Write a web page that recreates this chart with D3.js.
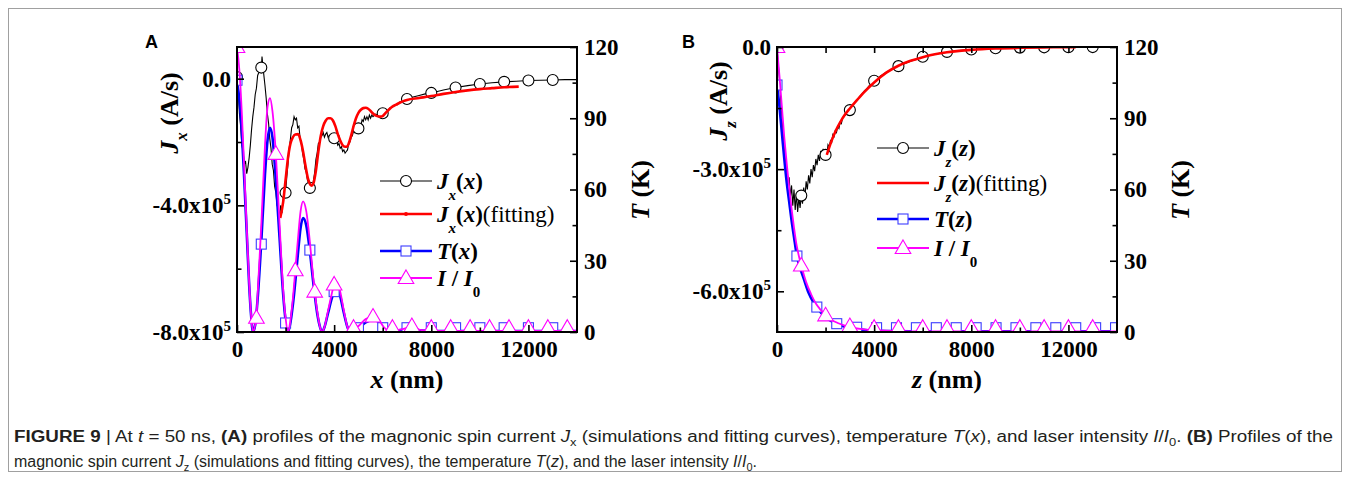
<!DOCTYPE html>
<html><head><meta charset="utf-8">
<script src="https://cdn.jsdelivr.net/npm/d3@7"></script>
<style>body{margin:0;background:#fff}svg{display:block}</style>
</head><body>
<svg id="c" width="1350" height="480"></svg>
<script>
// ---------- tick values ----------
const xTicks = [0, 4000, 8000, 12000];
const xMinor = [2000, 6000, 10000];
const tTicks = [0, 30, 60, 90, 120];
const tMinor = [15, 45, 75, 105];
const jxTicks = [0, -4, -8];        // x10^5 A/s
const jxMinor = [-2, -6];
const jzTicks = [0, -3, -6];
const jzMinor = [-1.5, -4.5];

// ---------- Panel A data (x nm, J in 1e5 A/s, T in K, I/I0 on T axis scale) ----------
const jxSim = [[0,0.05],[50,-0.4],[100,-1.1],[150,-1.5],[200,-2.1],[250,-2.3],[300,-2.7],[350,-2.6],[400,-3.0],[450,-2.8],[500,-2.5],[550,-2.1],[600,-1.6],[650,-1.2],[700,-0.9],[750,-0.5],[800,-0.3],[850,0.1],[900,0.2],[950,0.5],[1000,0.3],[1030,0.7],[1060,0.45],[1100,0.15],[1150,-0.2],[1200,-0.6],[1250,-1.1],[1300,-1.4],[1350,-1.9],[1400,-2.2],[1450,-2.7],[1500,-2.9],[1550,-3.4],[1600,-3.6],[1650,-4.0],[1700,-4.1],[1750,-4.4],[1800,-4.0],[1850,-4.25],[1900,-3.8],[1950,-3.5],[2000,-3.6],[2050,-3.1],[2100,-2.7],[2150,-2.2],[2200,-1.9],[2250,-1.55],[2300,-1.45],[2350,-1.2],[2400,-1.3],[2450,-1.25],[2500,-1.55],[2550,-1.5],[2600,-1.9],[2650,-2.05],[2700,-2.35],[2750,-2.55],[2800,-2.85],[2850,-2.95],[2900,-3.2],[2950,-3.3],[3000,-3.45],[3050,-3.35],[3100,-3.55],[3150,-3.2],[3200,-2.95],[3250,-2.55],[3300,-2.35],[3350,-2.05],[3400,-2.0],[3450,-1.85],[3500,-1.8],[3550,-1.7],[3600,-1.85],[3650,-1.75],[3700,-1.7],[3750,-1.85],[3800,-1.8],[3850,-1.95],[3900,-1.85],[4000,-1.88],[4050,-2.0],[4100,-1.95],[4150,-2.1],[4200,-2.05],[4250,-2.2],[4300,-2.15],[4350,-2.3],[4400,-2.25],[4450,-2.35],[4500,-2.3],[4550,-2.25],[4600,-2.05],[4650,-2.0],[4700,-1.85],[4750,-1.8],[4800,-1.65],[4850,-1.7],[4900,-1.55],[4950,-1.6],[5000,-1.57],[5050,-1.45],[5100,-1.5],[5150,-1.3],[5200,-1.35],[5250,-1.2],[5300,-1.3],[5350,-1.2],[5400,-1.3],[5450,-1.15],[5500,-1.25],[5550,-1.15],[5600,-1.2],[5700,-1.12],[5800,-1.15],[5900,-1.08],[6000,-1.09],[6100,-1.0],[6200,-1.02],[6300,-0.92],[6400,-0.9],[6500,-0.83],[6600,-0.82],[6700,-0.74],[6800,-0.73],[6900,-0.66],[7000,-0.64],[7250,-0.58],[7500,-0.53],[7750,-0.48],[8000,-0.45],[8500,-0.36],[9000,-0.28],[9500,-0.22],[10000,-0.17],[10500,-0.13],[11000,-0.1],[11500,-0.08],[12000,-0.06],[12500,-0.05],[13000,-0.04],[13500,-0.03],[14000,-0.03]];
const jxMarks = [[0,0.05],[1000,0.35],[2000,-3.6],[3000,-3.45],[4000,-1.88],[5000,-1.57],[6000,-1.09],[7000,-0.64],[8000,-0.45],[9000,-0.28],[10000,-0.17],[11000,-0.1],[12000,-0.06],[13000,-0.04]];
const jxFit = [[1780,-4.4],[1900,-3.9],[2000,-3.2],[2100,-2.5],[2200,-2.05],[2300,-1.85],[2400,-1.76],[2520,-1.75],[2620,-1.95],[2720,-2.3],[2820,-2.75],[2920,-3.15],[3020,-3.35],[3080,-3.38],[3150,-3.3],[3250,-2.9],[3350,-2.3],[3450,-1.8],[3550,-1.5],[3650,-1.33],[3750,-1.25],[3850,-1.25],[3950,-1.32],[4050,-1.5],[4150,-1.75],[4250,-1.95],[4350,-2.1],[4450,-2.15],[4520,-2.15],[4600,-2.05],[4700,-1.8],[4800,-1.5],[4900,-1.25],[5000,-1.08],[5100,-0.98],[5200,-0.93],[5300,-0.92],[5400,-0.95],[5500,-1.02],[5600,-1.1],[5700,-1.16],[5800,-1.19],[5900,-1.2],[6000,-1.18],[6100,-1.1],[6250,-0.98],[6400,-0.88],[6550,-0.82],[6700,-0.76],[6850,-0.71],[7000,-0.67],[7500,-0.61],[8000,-0.55],[8500,-0.48],[9000,-0.42],[9500,-0.37],[10000,-0.33],[10500,-0.3],[11000,-0.27],[11600,-0.25]];
const tA = [[0,105],[100,98],[200,84],[300,64],[400,42],[500,20],[580,7],[660,0],[750,3],[850,14],[1000,38],[1150,66],[1260,81],[1360,86],[1460,82],[1600,64],[1750,40],[1900,16],[2000,5],[2100,0],[2200,4],[2350,16],[2500,32],[2620,44],[2720,48],[2850,45],[3000,34],[3150,20],[3300,8],[3420,2],[3500,0],[3600,2],[3750,8],[3900,14],[4000,17],[4110,18.5],[4250,15],[4400,8],[4550,2],[4650,0],[4800,0.5],[5000,1.5],[5300,4],[5550,5],[5700,5],[5850,4],[6050,1.5],[6250,0.3],[6600,0.6],[7000,1.1],[7200,1.2],[7600,0.6],[8000,0.4],[14000,0.4]];
const iA = [[0,120],[100,110],[200,92],[300,68],[400,44],[500,21],[580,7],[660,0],[750,3],[800,6],[850,16],[1000,45],[1150,78],[1260,95],[1360,98.5],[1460,93],[1600,75],[1750,46],[1900,18],[2000,6],[2100,0],[2200,5],[2300,14],[2400,26],[2500,38],[2620,51],[2720,55],[2850,51],[3000,38],[3100,27],[3200,17],[3300,9],[3420,2],[3500,0],[3600,2],[3750,9],[3900,16],[4000,20],[4110,21],[4250,17],[4400,9],[4550,2],[4650,0],[4800,1],[5000,2.5],[5300,5.5],[5600,6.5],[5850,5],[6050,2],[6300,0.5],[6700,1],[7200,2],[7600,0.8],[8000,0.5],[14000,0.5]];
const tAMarks = [[0,106],[1000,37],[2000,3.8],[3000,34.5],[4000,17],[5000,1.8],[6000,1.8],[7000,1.8],[8000,1.8],[9000,1.8],[10000,1.8],[11000,1.8],[12000,1.8],[13000,1.8]];
const iAMarks = [[0,120],[800,6],[1600,75],[2400,26],[3200,17],[4000,20],[4800,1.8],[5600,6.5],[6400,1.8],[7200,2.5],[8000,1.8],[8800,1.8],[9600,1.8],[10400,1.8],[11200,1.8],[12000,1.8],[12800,1.8],[13600,1.8]];

// ---------- Panel B data (z nm) ----------
const jzSim = [[0,0],[100,-0.8],[200,-1.7],[300,-2.5],[400,-3.1],[450,-3.4],[500,-3.2],[550,-3.7],[600,-3.4],[650,-3.9],[700,-3.5],[750,-4.0],[800,-3.6],[850,-4.05],[900,-3.7],[950,-3.95],[1000,-3.65],[1050,-3.85],[1100,-3.45],[1150,-3.7],[1200,-3.3],[1250,-3.5],[1300,-3.15],[1350,-3.35],[1400,-3.0],[1450,-3.2],[1500,-2.9],[1550,-3.05],[1600,-2.75],[1650,-2.9],[1700,-2.65],[1750,-2.8],[1800,-2.55],[1850,-2.7],[1900,-2.5],[1950,-2.7],[2000,-2.55],[2050,-2.65],[2100,-2.4],[2150,-2.45],[2200,-2.3],[2250,-2.35],[2300,-2.15],[2350,-2.2],[2400,-2.05],[2450,-2.1],[2500,-1.95],[2550,-2.0],[2600,-1.85],[2650,-1.88],[2700,-1.75],[2800,-1.68],[2900,-1.6],[3000,-1.55],[3100,-1.45],[3200,-1.37],[3300,-1.3],[3400,-1.22],[3500,-1.15],[3600,-1.08],[3700,-1.02],[3800,-0.95],[3900,-0.89],[4000,-0.84],[4250,-0.72],[4500,-0.62],[4750,-0.54],[5000,-0.47],[5500,-0.35],[6000,-0.25],[6500,-0.18],[7000,-0.12],[7500,-0.09],[8000,-0.06],[9000,-0.03],[10000,-0.015],[11000,-0.008],[12000,-0.004],[13000,-0.002],[14000,0]];
const jzMarks = [[0,0],[1000,-3.65],[2000,-2.65],[3000,-1.55],[4000,-0.83],[5000,-0.47],[6000,-0.24],[7000,-0.12],[8000,-0.06],[9000,-0.03],[10000,-0.015],[11000,-0.008],[12000,-0.004],[13000,-0.002]];
const jzFit = [[2050,-2.65],[2200,-2.38],[2400,-2.08],[2600,-1.85],[2800,-1.66],[3000,-1.51],[3300,-1.3],[3600,-1.1],[4000,-0.87],[4500,-0.63],[5000,-0.46],[5500,-0.34],[6000,-0.25],[6500,-0.18],[7000,-0.13],[7500,-0.095],[8000,-0.07],[9000,-0.038],[10000,-0.02],[11000,-0.01],[12000,-0.005],[12300,-0.004]];
const tB = [[0,104],[100,95],[200,84],[300,73],[400,63],[500,55],[600,47],[700,40],[820,32],[950,27],[1100,22.5],[1300,16.5],[1500,12.5],[1640,10.5],[1800,8.3],[2000,6.3],[2200,4.8],[2460,3.5],[2800,2.2],[3280,1.2],[3800,0.7],[4500,0.4],[6000,0.3],[14000,0.3]];
const iB = [[0,120],[100,108],[200,95],[300,82],[400,71],[500,61],[600,52],[700,44],[800,37],[900,32],[1000,28],[1200,21],[1400,16],[1600,12],[1800,9.3],[2000,7],[2200,5.4],[2500,3.8],[3000,2.1],[3500,1.2],[4000,0.8],[5000,0.4],[6000,0.3],[14000,0.3]];
const tBMarks = [[0,104],[820,32],[1640,10.5],[2460,3.5],[3280,2],[4100,1.8],[4920,1.8],[5740,1.8],[6560,1.8],[7380,1.8],[8200,1.8],[9020,1.8],[9840,1.8],[10660,1.8],[11480,1.8],[12300,1.8],[13120,1.8],[13940,1.8]];
const iBMarks = [[0,120],[1000,28],[2000,7],[3000,2.5],[4000,1.8],[5000,1.8],[6000,1.8],[7000,1.8],[8000,1.8],[9000,1.8],[10000,1.8],[11000,1.8],[12000,1.8],[13000,1.8]];

// ---------- drawing ----------
const SERIF = "'Liberation Serif','Times New Roman',serif";
const SANS = "'Liberation Sans',Arial,sans-serif";
const svg = d3.select('#c');
const TOP = 47, BOT = 332, PW = 340;
const COL = {black:'#000', red:'#ff0000', blue:'#0000ff', mag:'#ff00ff', sq:'#3c3cff'};

svg.append('rect').attr('x',8.5).attr('y',8.5).attr('width',1333).attr('height',463)
  .attr('fill','none').attr('stroke','#a0a0a0').attr('stroke-width',1);

function rich(parent, segs, o) {
  const t = parent.append('text').attr('x', o.x).attr('y', o.y)
    .attr('font-family', o.family || SERIF).attr('font-size', o.size)
    .attr('text-anchor', o.anchor || 'start').attr('fill', o.fill || '#000');
  if (o.rotate) t.attr('transform', `rotate(-90,${o.x},${o.y})`);
  if (o.len) t.attr('textLength', o.len).attr('lengthAdjust', 'spacingAndGlyphs');
  let cur = 0;
  segs.forEach(s => {
    const off = s.off || 0;
    const sp = t.append('tspan').text(s.t)
      .attr('font-weight', s.b ? 'bold' : 'normal')
      .attr('font-style', s.i ? 'italic' : 'normal');
    if (s.fs) sp.attr('font-size', s.fs);
    if (off !== cur) { sp.attr('dy', off - cur); cur = off; }
  });
  return t;
}

function triPath(s) { return `M0,${-s*0.62}L${s*0.6},${s*0.42}L${-s*0.6},${s*0.42}Z`; }

function panel(o) {
  const g = svg.append('g');
  const L = o.left, R = o.left + PW;
  const x = d3.scaleLinear().domain([0, 14000]).range([L, R]);
  const yJ = d3.scaleLinear().domain(o.jDomain).range([BOT, TOP]);
  const yT = d3.scaleLinear().domain([0, 120]).range([BOT, TOP]);

  const cid = 'clip' + o.id;
  svg.append('clipPath').attr('id', cid).append('rect')
    .attr('x', L).attr('y', TOP).attr('width', PW).attr('height', BOT - TOP);
  const d = g.append('g').attr('clip-path', `url(#${cid})`);

  const lineJ = d3.line().x(p => x(p[0])).y(p => yJ(p[1]));
  const lineJs = d3.line().x(p => x(p[0])).y(p => yJ(p[1])).curve(d3.curveMonotoneX);
  const lineT = d3.line().x(p => x(p[0])).y(p => yT(p[1])).curve(d3.curveMonotoneX);

  d.append('path').datum(o.jSim).attr('d', lineJ).attr('fill','none').attr('stroke','#000').attr('stroke-width',1.1);
  d.selectAll('circle.jm').data(o.jMarks).enter().append('circle').attr('class','jm')
    .attr('cx', p => x(p[0])).attr('cy', p => yJ(p[1])).attr('r', 5.5)
    .attr('fill','#fff').attr('stroke','#000').attr('stroke-width',1.1);
  d.append('path').datum(o.jFit).attr('d', lineJs).attr('fill','none').attr('stroke',COL.red).attr('stroke-width',2.6);
  d.append('path').datum(o.t).attr('d', lineT).attr('fill','none').attr('stroke',COL.blue).attr('stroke-width',2.6);
  d.selectAll('rect.tm').data(o.tMarks).enter().append('rect').attr('class','tm')
    .attr('x', p => x(p[0]) - 5).attr('y', p => yT(p[1]) - 5).attr('width',10).attr('height',10)
    .attr('fill','#fff').attr('stroke',COL.sq).attr('stroke-width',1.1);
  d.append('path').datum(o.i).attr('d', lineT).attr('fill','none').attr('stroke',COL.mag).attr('stroke-width',1.8);
  d.selectAll('path.im').data(o.iMarks).enter().append('path').attr('class','im')
    .attr('d', triPath(13)).attr('transform', p => `translate(${x(p[0])},${yT(p[1])})`)
    .attr('fill','#fff').attr('stroke',COL.mag).attr('stroke-width',1.1);

  g.append('rect').attr('x',L).attr('y',TOP).attr('width',PW).attr('height',BOT-TOP)
    .attr('fill','none').attr('stroke','#000').attr('stroke-width',2);

  const styleAx = sel => { sel.select('.domain').remove(); sel.attr('font-family', SERIF).attr('font-size', 23).attr('font-weight','bold');
    sel.selectAll('line').attr('stroke','#000').attr('stroke-width',1.6); sel.selectAll('text').attr('fill','#000'); };

  g.append('g').attr('transform',`translate(0,${BOT})`)
    .call(d3.axisBottom(x).tickValues(xTicks).tickSizeInner(-7).tickSizeOuter(0).tickPadding(9).tickFormat(d3.format('d'))).call(styleAx);
  g.append('g').attr('transform',`translate(0,${BOT})`)
    .call(d3.axisBottom(x).tickValues(xMinor).tickSizeInner(-4.5).tickSizeOuter(0).tickFormat(() => '')).call(styleAx);
  if (o.topTicks) {
    g.append('g').attr('transform',`translate(0,${TOP})`)
      .call(d3.axisTop(x).tickValues(xTicks.concat(xMinor)).tickSizeInner(-6).tickSizeOuter(0).tickFormat(() => '')).call(styleAx);
  }
  const gl = g.append('g').attr('transform',`translate(${L},0)`)
    .call(d3.axisLeft(yJ).tickValues(o.jTicks).tickSizeInner(-7).tickSizeOuter(0).tickPadding(6)).call(styleAx);
  gl.selectAll('.tick text').each(function(v) {
    const t = d3.select(this); t.text(null);
    if (v === 0) t.text('0.0');
    else { t.append('tspan').text(v.toFixed(1) + 'x10'); t.append('tspan').text('5').attr('font-size',15).attr('dy',-9); }
  });
  g.append('g').attr('transform',`translate(${L},0)`)
    .call(d3.axisLeft(yJ).tickValues(o.jMinor).tickSizeInner(-4.5).tickSizeOuter(0).tickFormat(() => '')).call(styleAx);
  g.append('g').attr('transform',`translate(${R},0)`)
    .call(d3.axisRight(yT).tickValues(tTicks).tickSizeInner(-7).tickSizeOuter(0).tickPadding(7)).call(styleAx);
  g.append('g').attr('transform',`translate(${R},0)`)
    .call(d3.axisRight(yT).tickValues(tMinor).tickSizeInner(-4.5).tickSizeOuter(0).tickFormat(() => '')).call(styleAx);

  rich(g, [{t:o.v, b:1, i:1}, {t:' (nm)', b:1}], {x:(L+R)/2, y:388, size:26, anchor:'middle'});
  rich(g, [{t:'T', b:1, i:1}, {t:' (K)', b:1}], {x:R+72, y:190, size:26, anchor:'middle', rotate:1});
  rich(g, [{t:'J', b:1, i:1}, {t:o.v, b:1, i:1, fs:17, off:9}, {t:' (A/s)', b:1}], {x:o.jlx, y:o.jly, size:26, anchor:'middle', rotate:1});
  g.append('text').attr('x', o.letterX).attr('y', 48).attr('font-family', SANS).attr('font-weight','bold')
    .attr('font-size', 18).text(o.letter);

  const lg = g.append('g');
  const lx0 = o.legX, lx1 = o.legX + 52, lmx = o.legX + 26, ltx = o.legX + 57;
  const sub = s => ({t:s, b:1, i:1, fs:15, off:11});
  const rows = [
    {y:o.legY[0], col:'#000', w:1.1, mark:'circle', segs:[{t:'J',b:1,i:1}, sub(o.v), {t:'(',b:1,off:0}, {t:o.v,b:1,i:1}, {t:')',b:1}]},
    {y:o.legY[1], col:COL.red, w:2.6, mark:o.fitDot ? 'dot' : null, segs:[{t:'J',b:1,i:1}, sub(o.v), {t:'(',b:1,off:0}, {t:o.v,b:1,i:1}, {t:')',b:1}, {t:'(fitting)'}]},
    {y:o.legY[2], col:COL.blue, w:2.6, mark:'square', segs:[{t:'T',b:1,i:1}, {t:'(',b:1}, {t:o.v,b:1,i:1}, {t:')',b:1}]},
    {y:o.legY[3], col:COL.mag, w:1.8, mark:'tri', segs:[{t:'I',b:1,i:1}, {t:' / ',b:1}, {t:'I',b:1,i:1}, {t:'0',b:1,fs:15,off:11}]}
  ];
  rows.forEach(r => {
    lg.append('line').attr('x1',lx0).attr('x2',lx1).attr('y1',r.y).attr('y2',r.y).attr('stroke',r.col).attr('stroke-width',r.w);
    if (r.mark === 'circle') lg.append('circle').attr('cx',lmx).attr('cy',r.y).attr('r',5.5).attr('fill','#fff').attr('stroke','#000').attr('stroke-width',1.1);
    if (r.mark === 'dot') lg.append('circle').attr('cx',lmx).attr('cy',r.y).attr('r',2).attr('fill',COL.red);
    if (r.mark === 'square') lg.append('rect').attr('x',lmx-5).attr('y',r.y-5).attr('width',10).attr('height',10).attr('fill','#fff').attr('stroke',COL.sq).attr('stroke-width',1.1);
    if (r.mark === 'tri') lg.append('path').attr('d',triPath(13)).attr('transform',`translate(${lmx},${r.y})`).attr('fill','#fff').attr('stroke',COL.mag).attr('stroke-width',1.1);
    rich(lg, r.segs, {x:ltx, y:r.y + 8, size:23});
  });
}

panel({id:'A', left:237, jDomain:[-8, 1], jTicks:jxTicks, jMinor:jxMinor, v:'x',
  jSim:jxSim, jMarks:jxMarks, jFit:jxFit, t:tA, i:iA, tMarks:tAMarks, iMarks:iAMarks,
  topTicks:false, jlx:178, jly:113, letter:'A', letterX:145, legX:380, legY:[181,214,251,278], fitDot:true});
panel({id:'B', left:777, jDomain:[-7, 0], jTicks:jzTicks, jMinor:jzMinor, v:'z',
  jSim:jzSim, jMarks:jzMarks, jFit:jzFit, t:tB, i:iB, tMarks:tBMarks, iMarks:iBMarks,
  topTicks:true, jlx:727, jly:101, letter:'B', letterX:682, legX:877, legY:[148,183,219,248], fitDot:false});

// ---------- caption ----------
const cap = svg.append('g');
const CS = 16, CF = '#231f20';
rich(cap, [
  {t:'FIGURE 9', b:1}, {t:' | At '}, {t:'t', i:1}, {t:' = 50 ns, '}, {t:'(A)', b:1},
  {t:' profiles of the magnonic spin current '}, {t:'J', i:1}, {t:'x', fs:11, off:4},
  {t:' (simulations and fitting curves), temperature '}, {t:'T', i:1}, {t:'('}, {t:'x', i:1},
  {t:'), and laser intensity '}, {t:'I', i:1}, {t:'/'}, {t:'I', i:1}, {t:'0', fs:11, off:4},
  {t:'. '}, {t:'(B)', b:1}, {t:' Profiles of the'}
], {x:14, y:442, size:CS, family:SANS, len:1319, fill:CF});
rich(cap, [
  {t:'magnonic spin current '}, {t:'J', i:1}, {t:'z', fs:11, off:4},
  {t:' (simulations and fitting curves), the temperature '}, {t:'T', i:1}, {t:'('}, {t:'z', i:1},
  {t:'), and the laser intensity '}, {t:'I', i:1}, {t:'/'}, {t:'I', i:1}, {t:'0', fs:11, off:4}, {t:'.'}
], {x:14, y:467, size:CS, family:SANS, len:743, fill:CF});
</script>
</body></html>
